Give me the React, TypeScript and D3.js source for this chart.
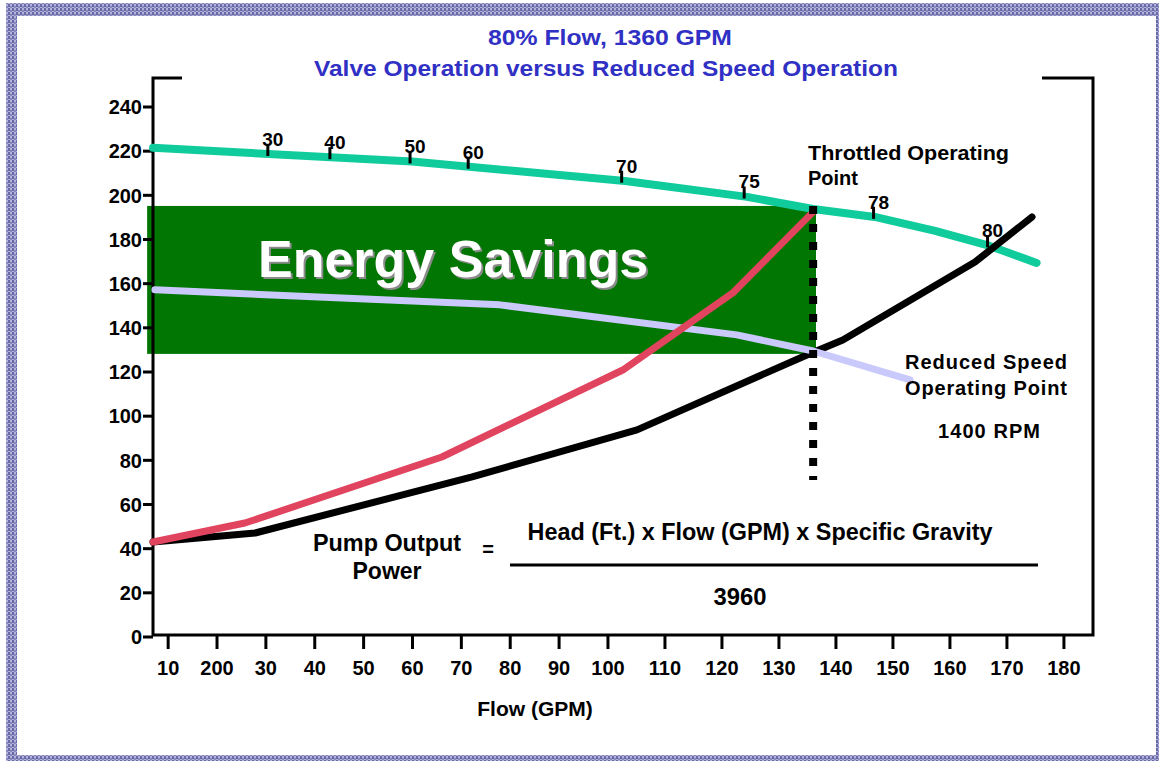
import React from 'react';
import * as d3 from 'd3';

const WIDTH = 1159;
const HEIGHT = 761;

// axis ticks
const yTickValues = [0, 20, 40, 60, 80, 100, 120, 140, 160, 180, 200, 220, 240];
const xTickValues = [10, 20, 30, 40, 50, 60, 70, 80, 90, 100, 110, 120, 130, 140, 150, 160, 170, 180];
const xTickLabels = ['10', '200', '30', '40', '50', '60', '70', '80', '90', '100', '110', '120', '130', '140', '150', '160', '170', '180'];

// throttled pump curve (teal)
const throttledFlow = [6.9, 59.9, 103.0, 124.4, 136.0, 146.8, 157.4, 167.0, 175.2];
const throttledHead = [221.5, 215.3, 206.5, 199.3, 193.8, 190.2, 183.9, 177.1, 169.4];

// reduced speed pump curve (lavender)
const reducedFlow = [7.3, 77.9, 122.6, 136.0, 153.0];
const reducedHead = [157.2, 150.4, 136.8, 129.5, 116.4];

// throttled system curve (red)
const valveFlow = [6.9, 25.7, 66.0, 102.6, 121.9, 136.0];
const valveHead = [43.0, 51.6, 81.5, 120.9, 155.8, 192.5];

// system curve (black)
const systemFlow = [6.9, 27.8, 72.2, 105.1, 134.9, 141.2, 164.4, 174.4];
const systemHead = [43.0, 47.1, 72.5, 93.8, 127.7, 134.5, 169.8, 190.2];

// % flow marks on the throttled curve
const percentFlow = [30.4, 43.1, 59.5, 71.4, 102.4, 123.9, 146.6, 166.6];
const percentLabels = ['30', '40', '50', '60', '70', '75', '78', '80'];

// energy savings box and operating point
const savingsFlow = [5.7, 136.5];
const savingsHead = [128.2, 195.2];
const operatingFlow = 136.0;
const dropLineHead = [71.1, 195.2];

const plotLeft = 153;
const plotRight = 1093;
const plotTop = 78;
const plotBottom = 635;

const font = '"Liberation Sans", Arial, sans-serif';

export default function App() {
  const x = d3
    .scaleLinear()
    .domain([6.9, 100, 185.1])
    .range([plotLeft, plotLeft + 0.484 * (plotRight - plotLeft), plotRight]);
  const y = d3.scaleLinear().domain([0, 240]).range([plotBottom + 2, 107]);

  const line = d3.line();
  const pts = (fs: number[], hs: number[]) =>
    fs.map((f, i) => [x(f), y(hs[i])] as [number, number]);

  const tealAt = d3.scaleLinear().domain(throttledFlow).range(throttledHead);

  return (
    <svg
      width={WIDTH}
      height={HEIGHT}
      style={{ position: 'absolute', left: 0, top: 0, background: '#fff' }}
      fontFamily={font}
    >
      <defs>
        <pattern id="hatch" width="4" height="4" patternUnits="userSpaceOnUse">
          <rect width="4" height="4" fill="#b4b4d8" />
          <rect width="2" height="3" fill="#6a6aa8" />
          <rect x="2" y="2" width="2" height="2" fill="#8686c0" />
        </pattern>
      </defs>

      {/* frame */}
      <rect x={6} y={3} width={11} height={757} fill="url(#hatch)" />
      <rect x={6} y={3} width={1153} height={13} fill="url(#hatch)" />
      <rect x={6} y={755} width={1153} height={6} fill="url(#hatch)" />
      <rect x={1156} y={3} width={3} height={758} fill="url(#hatch)" />

      {/* titles */}
      <text x={610} y={45} textAnchor="middle" fontSize={22} fontWeight="bold" fill="#3030c4"
        textLength={244} lengthAdjust="spacingAndGlyphs">80% Flow, 1360 GPM</text>
      <text x={606} y={76} textAnchor="middle" fontSize={22} fontWeight="bold" fill="#3030c4"
        textLength={584} lengthAdjust="spacingAndGlyphs">Valve Operation versus Reduced Speed Operation</text>

      {/* energy savings box */}
      <rect
        x={x(savingsFlow[0])}
        y={y(savingsHead[1])}
        width={x(savingsFlow[1]) - x(savingsFlow[0])}
        height={y(savingsHead[0]) - y(savingsHead[1])}
        fill="#027602"
      />
      <text x={260} y={279} fontSize={52} fontWeight="bold" fill="#8a8a8a">Energy Savings</text>
      <text x={258} y={277} fontSize={52} fontWeight="bold" fill="#ffffff">Energy Savings</text>

      {/* axes frame */}
      <path
        d={`M${plotLeft + 29},${plotTop}H${plotLeft}V${plotBottom}H${plotRight}V${plotTop}H${plotRight - 51}`}
        fill="none"
        stroke="#000"
        strokeWidth={3}
      />
      {yTickValues.map((v) => (
        <g key={'y' + v}>
          <line x1={plotLeft - 10} x2={plotLeft} y1={y(v)} y2={y(v)} stroke="#000" strokeWidth={3} />
          <text x={plotLeft - 11} y={y(v)} dy="0.36em" textAnchor="end" fontSize={20} fontWeight="bold">
            {v}
          </text>
        </g>
      ))}
      {xTickValues.map((v, i) => (
        <g key={'x' + v}>
          <line x1={x(v)} x2={x(v)} y1={plotBottom} y2={plotBottom + 14} stroke="#000" strokeWidth={3} />
          <text x={x(v)} y={668} dy="0.36em" textAnchor="middle" fontSize={20} fontWeight="bold">
            {xTickLabels[i]}
          </text>
        </g>
      ))}
      <text x={535} y={708} dy="0.36em" textAnchor="middle" fontSize={21} fontWeight="bold">
        Flow (GPM)
      </text>

      {/* curves */}
      <path d={line(pts(throttledFlow, throttledHead)) || ''} fill="none" stroke="#10cc9c"
        strokeWidth={8} strokeLinecap="round" strokeLinejoin="round" />
      <path d={line(pts(systemFlow, systemHead)) || ''} fill="none" stroke="#000"
        strokeWidth={7} strokeLinecap="round" strokeLinejoin="round" />
      <path d={line(pts(reducedFlow, reducedHead)) || ''} fill="none" stroke="#c9c9fb"
        strokeWidth={7} strokeLinecap="round" strokeLinejoin="round" />
      <path d={line(pts(valveFlow, valveHead)) || ''} fill="none" stroke="#e1445f"
        strokeWidth={7} strokeLinecap="round" strokeLinejoin="round" />

      {/* operating point drop line */}
      <line
        x1={x(operatingFlow)} x2={x(operatingFlow)}
        y1={y(dropLineHead[1])} y2={y(dropLineHead[0])}
        stroke="#000" strokeWidth={8} strokeDasharray="8 10"
      />

      {/* percent flow marks */}
      {percentFlow.map((f, i) => {
        const cx = x(f);
        const cy = y(tealAt(f));
        return (
          <g key={'p' + i}>
            <line x1={cx} x2={cx} y1={cy - 10} y2={cy + 2} stroke="#000" strokeWidth={3} />
            <text x={cx + 5} y={cy - 15} dy="0.36em" textAnchor="middle" fontSize={19} fontWeight="bold">
              {percentLabels[i]}
            </text>
          </g>
        );
      })}

      {/* annotations */}
      <g fontSize={20} fontWeight="bold">
        <text x={808} y={153} dy="0.36em" textLength={201} lengthAdjust="spacingAndGlyphs">Throttled Operating</text>
        <text x={808} y={178} dy="0.36em">Point</text>
        <text x={905} y={362} dy="0.36em" textLength={162} lengthAdjust="spacing">Reduced Speed</text>
        <text x={905} y={388} dy="0.36em" textLength={162} lengthAdjust="spacing">Operating Point</text>
        <text x={938} y={431} dy="0.36em" textLength={102} lengthAdjust="spacing">1400 RPM</text>
      </g>

      {/* formula */}
      <g fontSize={23} fontWeight="bold">
        <text x={387} y={543} dy="0.36em" textAnchor="middle" textLength={148} lengthAdjust="spacingAndGlyphs">Pump Output</text>
        <text x={387} y={571} dy="0.36em" textAnchor="middle" textLength={69} lengthAdjust="spacingAndGlyphs">Power</text>
        <text x={488} y={549} dy="0.36em" textAnchor="middle" fontSize={20}>=</text>
        <text x={760} y={532} dy="0.36em" textAnchor="middle" textLength={465} lengthAdjust="spacingAndGlyphs">
          Head (Ft.) x Flow (GPM) x Specific Gravity
        </text>
        <line x1={510} x2={1038} y1={565} y2={565} stroke="#000" strokeWidth={3} />
        <text x={740} y={597} dy="0.36em" textAnchor="middle" textLength={53} lengthAdjust="spacingAndGlyphs">3960</text>
      </g>
    </svg>
  );
}
